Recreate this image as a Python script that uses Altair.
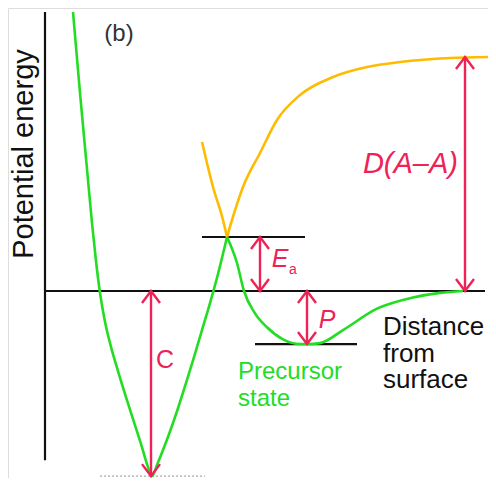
import altair as alt
import pandas as pd

# ---- data (distance from axis, energy relative to the zero line) ----
green_d = [28, 35, 42, 47, 51, 55, 60, 66, 73, 81, 89, 97, 102, 107, 112, 118, 125, 133, 141, 149, 157, 165, 173, 182,
           182, 192, 199, 210, 222, 238, 255, 262, 275, 298, 332, 368, 395, 418]
green_e = [279, 198, 122, 68, 30, -2, -33, -60, -86, -114, -141, -168, -186, -199, -187, -171, -151, -126, -99, -71, -42, -13, 17, 54,
           54, 28, 0, -24, -39, -52, -57, -57, -56, -42, -19, -7, -2, 0]
green_seg = ["a"] * 24 + ["b"] * 14

yellow_d = [157, 168, 178, 182, 182, 187, 198, 215, 232, 255, 288, 322, 355, 405, 447]
yellow_e = [149, 104, 71, 54, 54, 71, 104, 138, 171, 196, 214, 224, 229, 233, 234]
yellow_seg = ["a"] * 4 + ["b"] * 11

# black level lines: axis, zero line, barrier level, precursor level
line_d1 = [0, 0, 157, 210]
line_d2 = [0, 440, 260, 312]
line_e1 = [-182, 0, 54, -57]
line_e2 = [279, 0, 54, -57]

# dotted chemisorption level
dot_d1 = [55]
dot_d2 = [160]
dot_e = [-199]

# double-headed arrows: C, Ea, P, D(A-A)
arrow_d = [106, 215, 262, 420]
arrow_top = [0, 54, 0, 234]
arrow_bot = [-199, 0, -57, 0]

RED = "#ee2256"
GREEN = "#22dd22"
YELLOW = "#ffbb00"
FONT = "Liberation Sans"

xs = alt.Scale(domain=[-37, 443], nice=False, zero=False)
ys = alt.Scale(domain=[-201, 0, 283], range=[470, 283, 0], nice=False, zero=False)


def X(f):
    return alt.X(f, type="quantitative", scale=xs, axis=None)


def Y(f):
    return alt.Y(f, type="quantitative", scale=ys, axis=None)


green_df = pd.DataFrame({"d": green_d, "e": green_e, "seg": green_seg})
yellow_df = pd.DataFrame({"d": yellow_d, "e": yellow_e, "seg": yellow_seg})
lines_df = pd.DataFrame({"d1": line_d1, "d2": line_d2, "e1": line_e1, "e2": line_e2})
dot_df = pd.DataFrame({"d1": dot_d1, "d2": dot_d2, "e": dot_e})
arr_df = pd.DataFrame({"d": arrow_d, "top": arrow_top, "bot": arrow_bot})

green = alt.Chart(green_df).mark_line(color=GREEN, strokeWidth=2.6, interpolate="monotone").encode(
    x=X("d"), y=Y("e"), detail="seg:N", order="d:Q")
yellow = alt.Chart(yellow_df).mark_line(color=YELLOW, strokeWidth=2.6, interpolate="monotone").encode(
    x=X("d"), y=Y("e"), detail="seg:N", order="d:Q")

lines = alt.Chart(lines_df).mark_rule(color="#111111", strokeWidth=2.2).encode(
    x=X("d1"), x2="d2", y=Y("e1"), y2="e2")
dots = alt.Chart(dot_df).mark_rule(color="#aaaaaa", strokeWidth=1.2, strokeDash=[2, 2]).encode(
    x=X("d1"), x2="d2", y=Y("e"))

shafts = alt.Chart(arr_df).mark_rule(color=RED, strokeWidth=2.4).encode(
    x=X("d"), y=Y("top"), y2="bot")
up_heads = alt.Chart(arr_df).mark_point(
    shape="M-0.75,1L0,0L0.75,1", size=576, filled=False, color=RED, strokeWidth=2.4, opacity=1
).encode(x=X("d"), y=Y("top"))
down_heads = alt.Chart(arr_df).mark_point(
    shape="M-0.75,-1L0,0L0.75,-1", size=576, filled=False, color=RED, strokeWidth=2.4, opacity=1
).encode(x=X("d"), y=Y("bot"))

# ---- text ----
ylab = alt.Chart(pd.DataFrame({"d": [-21], "e": [137], "t": ["Potential energy"]})).mark_text(
    font=FONT, fontSize=29, angle=270, align="center", baseline="middle", color="#111111"
).encode(x=X("d"), y=Y("e"), text="t:N")

panel = alt.Chart(pd.DataFrame({"d": [74], "e": [257], "t": ["(b)"]})).mark_text(
    font=FONT, fontSize=24, align="center", baseline="middle", color="#333333"
).encode(x=X("d"), y=Y("e"), text="t:N")

c_lab = alt.Chart(pd.DataFrame({"d": [120], "e": [-74], "t": ["C"]})).mark_text(
    font=FONT, fontSize=25, align="center", baseline="middle", color=RED
).encode(x=X("d"), y=Y("e"), text="t:N")

it_df = pd.DataFrame({"d": [235, 282], "e": [32, -31], "t": ["E", "P"]})
it_lab = alt.Chart(it_df).mark_text(
    font=FONT, fontSize=25, fontStyle="italic", align="center", baseline="middle", color=RED
).encode(x=X("d"), y=Y("e"), text="t:N")

sub_lab = alt.Chart(pd.DataFrame({"d": [248], "e": [21], "t": ["a"]})).mark_text(
    font=FONT, fontSize=14, align="center", baseline="middle", color=RED
).encode(x=X("d"), y=Y("e"), text="t:N")

d_lab = alt.Chart(pd.DataFrame({"d": [413], "e": [127], "t": ["D(A–A)"]})).mark_text(
    font=FONT, fontSize=29, fontStyle="italic", align="right", baseline="middle", color=RED
).encode(x=X("d"), y=Y("e"), text="t:N")

prec_lab = alt.Chart(pd.DataFrame({"d": [193, 193], "e": [-95, -124], "t": ["Precursor", "state"]})).mark_text(
    font=FONT, fontSize=24, align="left", baseline="alphabetic", color=GREEN
).encode(x=X("d"), y=Y("e"), text="t:N")

dist_lab = alt.Chart(pd.DataFrame({"d": [338, 338, 338], "e": [-47, -76, -104],
                                   "t": ["Distance", "from", "surface"]})).mark_text(
    font=FONT, fontSize=26, align="left", baseline="alphabetic", color="#111111"
).encode(x=X("d"), y=Y("e"), text="t:N")

chart = alt.layer(
    dots, lines, yellow, green, shafts, up_heads, down_heads,
    ylab, panel, c_lab, it_lab, sub_lab, d_lab, prec_lab, dist_lab
).properties(
    width=480, height=470, padding=0, autosize=alt.AutoSizeParams(type="none")
).configure_view(stroke=None).configure(background="white")

chart.save("out.html", embed_options={"renderer": "svg", "actions": False})
